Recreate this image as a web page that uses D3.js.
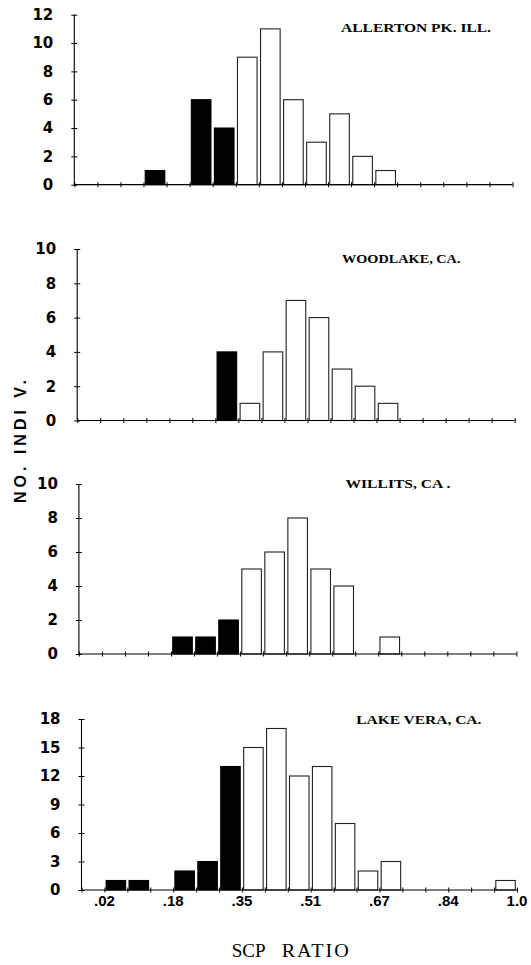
<!DOCTYPE html>
<html><head><meta charset="utf-8">
<script src="https://cdn.jsdelivr.net/npm/d3@7"></script>
<style>
html,body{margin:0;padding:0;background:#fff;}
svg{display:block;}
</style></head>
<body>
<svg id="chart" width="531" height="965"></svg>
<script>
// ---- data ----
const bins = d3.range(19);
const siteNames = ["ALLERTON PK. ILL.", "WOODLAKE, CA.", "WILLITS, CA .", "LAKE VERA, CA."];
const allerton = [0,0,0,1,0,6,4,9,11,6,3,5,2,1,0,0,0,0,0];
const woodlake = [0,0,0,0,0,0,4,1,4,7,6,3,2,1,0,0,0,0,0];
const willits  = [0,0,0,0,1,1,2,5,6,8,5,4,0,1,0,0,0,0,0];
const lakeVera = [0,1,1,0,2,3,13,15,17,12,13,7,2,3,0,0,0,0,1];
const yTicksAllerton = [0,2,4,6,8,10,12];
const yTicksWoodlake = [0,2,4,6,8,10];
const yTicksWillits  = [0,2,4,6,8,10];
const yTicksLakeVera = [0,3,6,9,12,15,18];
const xTickLabels = [".02",".18",".35",".51",".67",".84","1.0"];
const xTickLabelEdges = [1,4,7,10,13,16,19];
const darkBinsBelow = 7; // bins left of .35 are filled black

// ---- layout ----
const panels = [
  {name: siteNames[0], values: allerton, ticks: yTicksAllerton, left:74.3, right:512.5, top:14.7, bottom:184.7, tx:341, tw:150, ty:31.5},
  {name: siteNames[1], values: woodlake, ticks: yTicksWoodlake, left:77.2, right:514.7, top:249, bottom:420.5, tx:342, tw:118.5, ty:263},
  {name: siteNames[2], values: willits,  ticks: yTicksWillits,  left:78.9, right:516.4, top:484, bottom:654, tx:345.4, tw:105, ty:488.3},
  {name: siteNames[3], values: lakeVera, ticks: yTicksLakeVera, left:81.5, right:517, top:719, bottom:890, tx:356.2, tw:125.3, ty:724}
];

const svg = d3.select("#chart");

// place text at (x,y) and stretch horizontally to a target width
function stretchedText(parent, str, x, y, width, attrs) {
  const t = parent.append("text").text(str);
  Object.entries(attrs).forEach(([k, v]) => t.attr(k, v));
  const len = t.node().getComputedTextLength() || width;
  t.attr("transform", `translate(${x},${y}) scale(${width / len},1)`);
  return t;
}

panels.forEach((p, pi) => {
  const g = svg.append("g");
  const xBand = d3.scaleBand().domain(bins).range([p.left, p.right]).paddingInner(0.15).paddingOuter(0.075);
  const xEdge = d3.scaleLinear().domain([0, bins.length]).range([p.left, p.right]);
  const yMax = d3.max(p.ticks);
  const y = d3.scaleLinear().domain([0, yMax]).range([p.bottom, p.top]);

  // bars
  g.selectAll("rect.bar").data(bins.filter(i => p.values[i] > 0)).join("rect")
    .attr("class","bar")
    .attr("x", i => xBand(i))
    .attr("width", xBand.bandwidth())
    .attr("y", i => y(p.values[i]))
    .attr("height", i => y(0) - y(p.values[i]))
    .attr("fill", i => i < darkBinsBelow ? "#000" : "#fff")
    .attr("stroke", i => i < darkBinsBelow ? "#000" : "#222")
    .attr("stroke-width", 1.1);

  // x axis
  const xAxis = d3.axisBottom(xEdge).tickValues(d3.range(bins.length + 1)).tickSize(6).tickFormat("");
  const gx = g.append("g").attr("transform", `translate(0,${p.bottom})`).call(xAxis);
  gx.select(".domain").attr("d", `M${p.left},0H${p.right}`).attr("stroke","#000").attr("stroke-width",1.2);
  gx.selectAll(".tick line").attr("y1",-2.5).attr("y2",2.5).attr("stroke","#000");

  // y axis
  const yAxis = d3.axisLeft(y).tickValues(p.ticks).tickSize(6).tickPadding(15);
  const gy = g.append("g").attr("transform", `translate(${p.left},0)`).call(yAxis);
  gy.select(".domain").attr("d", `M0,${p.top}V${p.bottom}`).attr("stroke","#000").attr("stroke-width",1.1);
  gy.selectAll(".tick line").attr("x1",-3).attr("x2",3).attr("stroke","#000");
  gy.selectAll(".tick text")
    .attr("font-family","DejaVu Sans, Arial, sans-serif")
    .attr("font-weight","bold").attr("font-size","15px").attr("fill","#000");

  // site title
  stretchedText(g, p.name, p.tx, p.ty, p.tw, {
    "font-family": "Liberation Serif, Times New Roman, serif",
    "font-weight": "bold", "font-size": "12.8px"
  });

  // x tick labels on last panel
  if (pi === panels.length - 1) {
    g.selectAll("text.xl").data(xTickLabelEdges).join("text")
      .attr("class","xl")
      .attr("x", (e) => xEdge(e))
      .attr("y", p.bottom + 16)
      .attr("text-anchor","middle")
      .attr("font-family","Liberation Sans, Arial, sans-serif")
      .attr("font-weight","bold").attr("font-size","15px")
      .text((e, i) => xTickLabels[i]);
  }
});

// y axis label
svg.append("text")
  .attr("transform","translate(26,441.5) rotate(-90)")
  .attr("x", -61.5)
  .attr("font-family","Liberation Sans, Arial, sans-serif")
  .attr("font-weight","bold").attr("font-size","16px")
  .attr("textLength", 123).attr("lengthAdjust","spacing")
  .text("NO. INDI V.");

// x axis title
const xTitleAttrs = {"font-family":"Liberation Serif, Times New Roman, serif", "font-size":"18.5px"};
stretchedText(svg, "SCP", 231.7, 957, 34, xTitleAttrs);
stretchedText(svg, "RATIO", 281.7, 957, 69, Object.assign({"letter-spacing":"1.8px"}, xTitleAttrs));
</script>
</body></html>
